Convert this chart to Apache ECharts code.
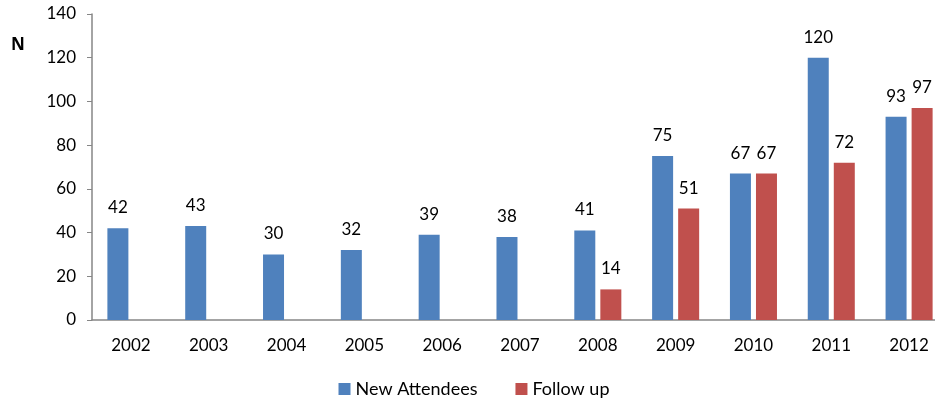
<!DOCTYPE html>
<html><head><meta charset="utf-8">
<script src="https://cdn.jsdelivr.net/npm/echarts@6/dist/echarts.min.js"></script>
<style>html,body{margin:0;padding:0;background:#fff;overflow:hidden;width:935px;height:407px}#c{width:948px;height:407px}</style>
</head><body><div id="c"></div>
<script>
const years = ['2002','2003','2004','2005','2006','2007','2008','2009','2010','2011','2012'];
const newAttendees = [42,43,30,32,39,38,41,75,67,120,93];
const followUp = [null,null,null,null,null,null,14,51,67,72,97];
const yTicks = [0,20,40,60,80,100,120,140];

const chart = echarts.init(document.getElementById('c'));
const font = 'Lato, "Open Sans", sans-serif';
const lbl = {show:true, position:'top', distance:12, fontSize:17, color:'#000', fontFamily:font};
chart.setOption({
  animation:false,
  textStyle:{fontFamily:font},
  title:{text:'N', left:11, top:37, padding:0, textStyle:{fontSize:17, fontWeight:'bold', color:'#000', fontFamily:'"Open Sans", sans-serif'}},
  grid:{left:92, top:14, right:0, bottom:87, containLabel:false},
  xAxis:{type:'category', data:years,
    axisLine:{lineStyle:{color:'#868686', width:1.5}},
    axisTick:{show:false},
    axisLabel:{fontSize:17, color:'#000', margin:17, fontFamily:font}},
  yAxis:{type:'value', min:yTicks[0], max:yTicks[yTicks.length-1], interval:20,
    splitLine:{show:false},
    axisLine:{show:true, lineStyle:{color:'#868686', width:1.5}},
    axisTick:{show:true, length:5, lineStyle:{color:'#868686'}},
    axisLabel:{fontSize:17, color:'#000', margin:16, fontFamily:font}},
  legend:{bottom:4, left:'center', itemWidth:12, itemHeight:12, itemGap:38, icon:'rect',
    textStyle:{fontSize:18, color:'#000', fontFamily:font}},
  series:[
    {name:'New Attendees', type:'bar', data:newAttendees, barWidth:21, barGap:'24%', itemStyle:{color:'#4F81BD'}, label:lbl},
    {name:'Follow up', type:'bar', data:followUp, barWidth:21, barGap:'24%', itemStyle:{color:'#C0504D'}, label:lbl}
  ]
});
</script></body></html>
